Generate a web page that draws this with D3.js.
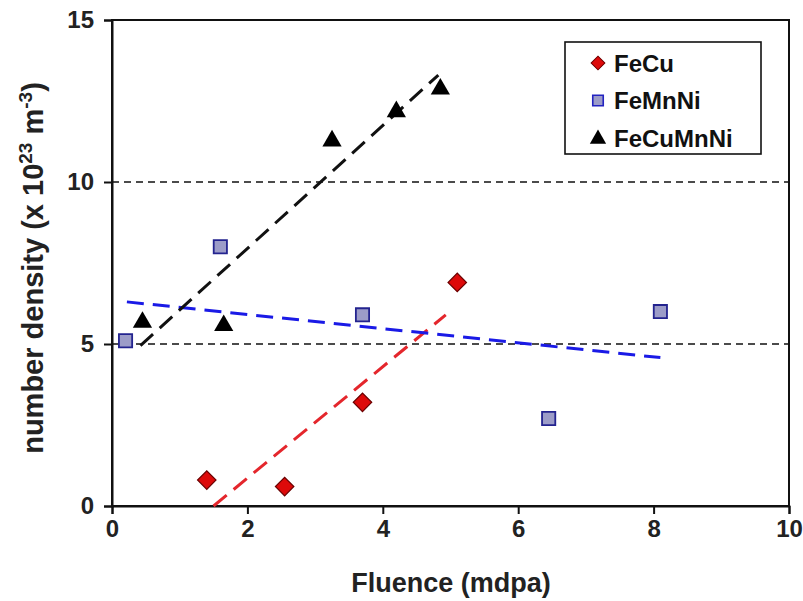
<!DOCTYPE html>
<html>
<head>
<meta charset="utf-8">
<script src="https://cdn.jsdelivr.net/npm/d3@7"></script>
<style>
  body { margin: 0; background: #fff; }
  svg { font-family: "Liberation Sans", Arial, sans-serif; }
</style>
</head>
<body>
<svg id="chart" width="803" height="601"></svg>
<script>
// values
const fecuX = [1.4, 2.55, 3.7, 5.1];
const fecuY = [0.8, 0.6, 3.2, 6.9];
const femnniX = [0.2, 1.6, 3.7, 6.45, 8.1];
const femnniY = [5.1, 8.0, 5.9, 2.7, 6.0];
const fecumnniX = [0.45, 1.65, 3.25, 4.2, 4.85];
const fecumnniY = [5.7, 5.6, 11.3, 12.2, 12.9];

// dashed trend lines, end points as drawn
const fecuTrend = [[1.5, 0], [4.93, 5.9]];
const femnniTrend = [[0.22, 6.3], [8.1, 4.58]];
const fecumnniTrend = [[0.42, 4.95], [4.82, 13.3]];

const xTicks = [0, 2, 4, 6, 8, 10];
const yTicks = [0, 5, 10, 15];
const refLines = [5, 10];
const seriesNames = ["FeCu", "FeMnNi", "FeCuMnNi"];

const svg = d3.select("#chart");
const x = d3.scaleLinear().domain([0, 10]).range([112, 789]);
const y = d3.scaleLinear().domain([0, 15]).range([506, 20]);

// horizontal dashed reference lines
svg.selectAll(".ref").data(refLines).join("line")
    .attr("x1", x(0)).attr("x2", x(10))
    .attr("y1", d => y(d)).attr("y2", d => y(d))
    .attr("stroke", "#111").attr("stroke-width", 1.6)
    .attr("stroke-dasharray", "7,5");

// frame
svg.append("rect")
    .attr("x", x(0)).attr("y", y(15))
    .attr("width", x(10) - x(0)).attr("height", y(0) - y(15))
    .attr("fill", "none").attr("stroke", "#111").attr("stroke-width", 2);

const xAxis = svg.append("g")
    .attr("transform", `translate(0,${y(0)})`)
    .call(d3.axisBottom(x).tickValues(xTicks).tickSize(8).tickPadding(6).tickFormat(d3.format("d")));
const yAxis = svg.append("g")
    .attr("transform", `translate(${x(0)},0)`)
    .call(d3.axisLeft(y).tickValues(yTicks).tickSize(8).tickPadding(10).tickFormat(d3.format("d")));

[xAxis, yAxis].forEach(g => {
    g.select(".domain").attr("stroke", "#111").attr("stroke-width", 2);
    g.selectAll(".tick line").attr("stroke", "#111").attr("stroke-width", 2);
    g.selectAll(".tick text")
        .attr("fill", "#222")
        .attr("font-size", 24)
        .attr("font-weight", "bold")
        .attr("font-family", "'Liberation Sans', Arial, sans-serif");
});

// trend lines
const line = d3.line().x(d => x(d[0])).y(d => y(d[1]));
[[fecuTrend, "#e4262c"], [femnniTrend, "#1a1ae6"], [fecumnniTrend, "#111"]].forEach(([pts, c]) => {
    svg.append("path")
        .attr("d", line(pts))
        .attr("fill", "none")
        .attr("stroke", c)
        .attr("stroke-width", 3)
        .attr("stroke-dasharray", "17,9");
});

// markers
const diamond = d3.symbol().type(d3.symbolSquare).size(170);
const square = d3.symbol().type(d3.symbolSquare).size(175);
const triangle = d3.symbol().type(d3.symbolTriangle).size(160);

function drawDiamonds(g, xs, ys, sym) {
    g.selectAll(null).data(xs).join("path")
        .attr("d", sym)
        .attr("transform", (d, i) => `translate(${x(d)},${y(ys[i])}) rotate(45)`)
        .attr("fill", "#dd0a0a").attr("stroke", "#6a0000").attr("stroke-width", 1.2);
}
function drawSquares(g, xs, ys, sym) {
    g.selectAll(null).data(xs).join("path")
        .attr("d", sym)
        .attr("transform", (d, i) => `translate(${x(d)},${y(ys[i])})`)
        .attr("fill", "#9c9cc8").attr("stroke", "#23238f").attr("stroke-width", 1.8);
}
function drawTriangles(g, xs, ys, sym) {
    g.selectAll(null).data(xs).join("path")
        .attr("d", sym)
        .attr("transform", (d, i) => `translate(${x(d)},${y(ys[i]) + 1})`)
        .attr("fill", "#000");
}
const marks = svg.append("g");
drawSquares(marks.append("g"), femnniX, femnniY, square);
drawTriangles(marks.append("g"), fecumnniX, fecumnniY, triangle);
drawDiamonds(marks.append("g"), fecuX, fecuY, diamond);

// legend
const lg = svg.append("g");
lg.append("rect")
    .attr("x", 565).attr("y", 42).attr("width", 196).attr("height", 112)
    .attr("fill", "#fff").attr("stroke", "#111").attr("stroke-width", 1.6);
const rowY = d3.scalePoint().domain(seriesNames).range([63, 138]);
const mx = 598;
lg.append("path").attr("d", d3.symbol().type(d3.symbolSquare).size(95))
    .attr("transform", `translate(${mx},${rowY("FeCu")}) rotate(45)`)
    .attr("fill", "#dd0a0a").attr("stroke", "#6a0000").attr("stroke-width", 1);
lg.append("path").attr("d", d3.symbol().type(d3.symbolSquare).size(110))
    .attr("transform", `translate(${mx},${rowY("FeMnNi")})`)
    .attr("fill", "#9c9cc8").attr("stroke", "#2323c0").attr("stroke-width", 1.6);
lg.append("path").attr("d", d3.symbol().type(d3.symbolTriangle).size(115))
    .attr("transform", `translate(${mx},${rowY("FeCuMnNi") + 1})`)
    .attr("fill", "#000");
lg.selectAll("text").data(seriesNames).join("text")
    .attr("x", 614).attr("y", d => rowY(d))
    .attr("dy", "0.36em")
    .attr("font-size", 24).attr("font-weight", "bold").attr("fill", "#111")
    .text(d => d);

// axis titles
svg.append("text")
    .attr("x", 451).attr("y", 592)
    .attr("text-anchor", "middle")
    .attr("font-size", 27).attr("font-weight", "bold").attr("fill", "#222")
    .text("Fluence (mdpa)");

const yt = svg.append("text")
    .attr("transform", "translate(43,268) rotate(-90)")
    .attr("text-anchor", "middle")
    .attr("font-size", 29).attr("font-weight", "bold").attr("fill", "#222");
yt.append("tspan").text("number density (x 10");
yt.append("tspan").attr("font-size", 19).attr("dy", -11).text("23");
yt.append("tspan").attr("dy", 11).text(" m");
yt.append("tspan").attr("font-size", 19).attr("dy", -11).text("-3");
yt.append("tspan").attr("dy", 11).text(")");
</script>
</body>
</html>
